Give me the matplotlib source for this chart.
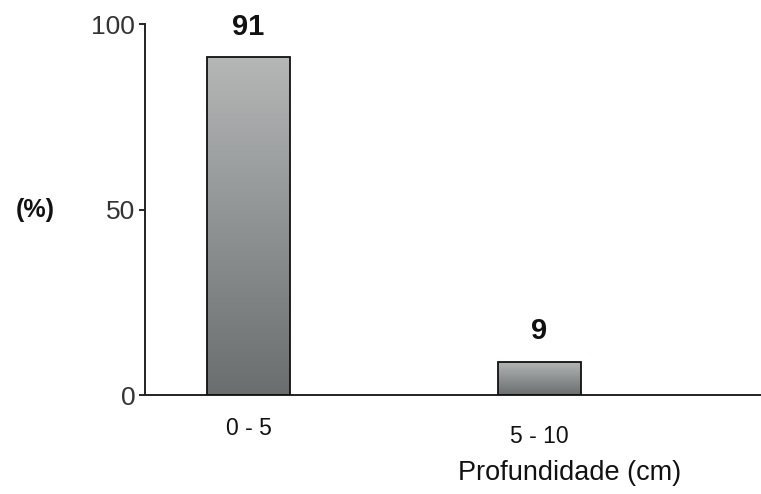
import matplotlib
matplotlib.use("Agg")
import matplotlib.pyplot as plt
import numpy as np
from matplotlib.colors import LinearSegmentedColormap

# data
categories = ["0 - 5", "5 - 10"]
values = [91, 9]
yticks = [0, 50, 100]

plt.rcParams["font.family"] = ["Liberation Sans", "DejaVu Sans"]

fig = plt.figure(figsize=(7.61, 4.94), dpi=100)
ax = fig.add_axes([0.1905, 0.2004, 0.8095, 0.751])
ax.set_xlim(-0.3557, 1.761)
ax.set_ylim(0, 100)

width = 0.285
xs = np.arange(len(categories))
bars = ax.bar(xs, values, width=width, facecolor="none", edgecolor="#111111",
              linewidth=1.3, zorder=3)

# vertical gradient inside each bar
cmap = LinearSegmentedColormap.from_list("g", ["#6a6e6e", "#b5b7b7"])
grad = np.linspace(0, 1, 256).reshape(-1, 1)
for b in bars:
    x0, y0 = b.get_x(), b.get_y()
    w, h = b.get_width(), b.get_height()
    im = ax.imshow(grad, cmap=cmap, origin="lower", aspect="auto",
                   extent=(x0, x0 + w, y0, y0 + h), zorder=2)
    im.set_clip_path(b)

# value labels
for x, v in zip(xs, values):
    ax.text(x, v + 4.5, str(v), ha="center", va="bottom", fontsize=21,
            fontweight="bold", color="#111111")

ax.set_xlim(-0.3557, 1.761)
ax.set_ylim(0, 100)

for s in ["top", "right"]:
    ax.spines[s].set_visible(False)
ax.spines["left"].set_linewidth(1.4)
ax.spines["bottom"].set_linewidth(1.4)
ax.spines["left"].set_color("#222222")
ax.spines["bottom"].set_color("#222222")

ax.set_yticks(yticks)
ax.set_yticklabels([str(t) for t in yticks], fontsize=19, color="#333333")
ax.tick_params(axis="y", length=4, width=1.2, pad=3)
ax.set_xticks(xs)
ax.set_xticklabels(categories, fontsize=16.5, color="#111111")
ax.tick_params(axis="x", length=0, pad=16)
ax.get_xticklabels()[1].set_y(-0.02)

fig.text(35 / 761, 1 - 210 / 494, "(%)", ha="center", va="center",
         fontsize=18, fontweight="bold", color="#111111")
fig.text(570 / 761, 1 - 473 / 494, "Profundidade (cm)", ha="center",
         va="center", fontsize=19.5, color="#111111")

fig.savefig("out.png", dpi=100)
